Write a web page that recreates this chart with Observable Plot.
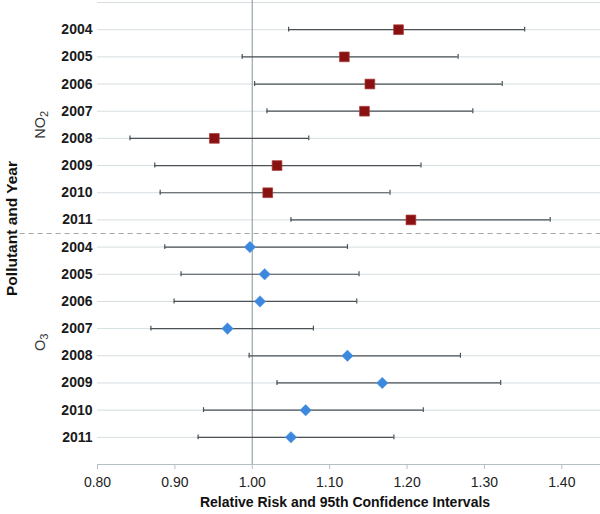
<!DOCTYPE html>
<html><head><meta charset="utf-8">
<script src="https://cdn.jsdelivr.net/npm/d3@7"></script>
<script src="https://cdn.jsdelivr.net/npm/@observablehq/plot@0.6"></script>
<style>
body{margin:0;background:#fff;font-family:"Liberation Sans",Arial,sans-serif;}
</style>
</head><body><div id="chart"></div>
<script>
// ---- data ----
const years = ["2004","2005","2006","2007","2008","2009","2010","2011"];
const pollutants = ["NO2","O3"];
const no2RR   = [1.189, 1.119, 1.152, 1.145, 0.951, 1.032, 1.020, 1.205];
const no2Low  = [1.047, 0.987, 1.003, 1.019, 0.842, 0.874, 0.881, 1.050];
const no2High = [1.352, 1.266, 1.323, 1.285, 1.073, 1.218, 1.178, 1.385];
const o3RR    = [0.997, 1.016, 1.010, 0.968, 1.123, 1.168, 1.069, 1.050];
const o3Low   = [0.887, 0.908, 0.899, 0.869, 0.996, 1.032, 0.937, 0.930];
const o3High  = [1.123, 1.138, 1.135, 1.079, 1.269, 1.321, 1.221, 1.183];
const xTicks  = [0.80, 0.90, 1.00, 1.10, 1.20, 1.30, 1.40];
const xTitle = "Relative Risk and 95th Confidence Intervals";
const yTitle = "Pollutant and Year";

// ---- table ----
const series = [
  {name: pollutants[0], rr: no2RR, lo: no2Low, hi: no2High},
  {name: pollutants[1], rr: o3RR, lo: o3Low, hi: o3High}
];
const rows = [];
series.forEach((s, si) => years.forEach((y, k) => rows.push({
  pollutant: s.name, year: y, i: si * years.length + k, rr: s.rr[k], lo: s.lo[k], hi: s.hi[k]
})));
const nRows = rows.length;
const groupLabels = series.map((s, si) => ({name: s.name, mid: si * years.length + (years.length - 1) / 2}));
const sepY = [years.length - 0.5];
const gridRows = d3.range(-1, nRows);
const xMin = 0.8, xMax = 1.45;

const cap = 0.09;
const errStroke = "#4b5154";

const chart = Plot.plot({
  width: 600,
  height: 514,
  marginLeft: 97,
  marginRight: 0,
  marginTop: 2,
  marginBottom: 50,
  style: {fontFamily: '"Liberation Sans", Arial, sans-serif', background: "#fff"},
  x: {domain: [xMin, xMax]},
  y: {domain: [-1, nRows], reverse: true, axis: null},
  marks: [
    Plot.ruleY(gridRows, {x1: xMin, x2: xMax, stroke: "#d6dee1", strokeWidth: 1}),
    Plot.ruleY([nRows], {x1: xMin, x2: xMax, stroke: "#b4bfc3", strokeWidth: 1}),
    Plot.ruleY(sepY, {x1: 0.70, x2: xMax, stroke: "#a7a7a7", strokeDasharray: "5,4", strokeWidth: 1}),
    Plot.ruleX([1], {y1: -1.1, y2: nRows, stroke: "#9aa4a7", strokeWidth: 1.2}),
    Plot.axisX(xTicks, {tickSize: 5, tickPadding: 8, tickFormat: d => d.toFixed(2), fontSize: 14, stroke: "#b4bfc3", fill: "#222", label: null}),
    Plot.axisY(d3.range(nRows), {tickSize: 0, tickPadding: 5, tickFormat: i => rows[i].year, fontSize: 14, fontWeight: "bold", fill: "#1a1a1a", label: null}),
    Plot.ruleY(rows, {y: "i", x1: "lo", x2: "hi", stroke: errStroke, strokeWidth: 1.2}),
    Plot.ruleX(rows, {x: "lo", y1: d => d.i - cap, y2: d => d.i + cap, stroke: errStroke, strokeWidth: 1.2}),
    Plot.ruleX(rows, {x: "hi", y1: d => d.i - cap, y2: d => d.i + cap, stroke: errStroke, strokeWidth: 1.2}),
    Plot.dot(rows.filter(d => d.pollutant === pollutants[0]), {x: "rr", y: "i", symbol: "square", r: 5.5, fill: "#8a1111", stroke: "#a93b3b", strokeWidth: 0.7}),
    Plot.dot(rows.filter(d => d.pollutant === pollutants[1]), {x: "rr", y: "i", symbol: "diamond2", r: 5.2, fill: "#3b88de", stroke: "#5a9be4", strokeWidth: 0.5}),
    Plot.text(groupLabels, {y: "mid", text: "name", frameAnchor: "left", textAnchor: "middle", dx: -57, rotate: -90, fontSize: 14.5, fill: "#333", className: "grp"}),
    Plot.text([yTitle], {y: () => (nRows - 1) / 2, text: d => d, frameAnchor: "left", textAnchor: "middle", dx: -85, dy: -5, rotate: -90, fontSize: 15.5, fontWeight: "bold", fill: "#111"}),
    Plot.text([xTitle], {text: d => d, frameAnchor: "bottom", dx: -4, dy: 42.5, fontSize: 14, fontWeight: "bold", fill: "#111"})
  ]
});
// render the trailing digit of the pollutant names as a real subscript
d3.select(chart).selectAll("g.grp text").each(function() {
  const t = this.textContent;
  const m = t.match(/^(\D+)(\d+)$/);
  if (!m) return;
  const el = d3.select(this);
  el.text(null);
  el.append("tspan").text(m[1]);
  el.append("tspan").attr("font-size", "11px").attr("dy", "0.3em").text(m[2]);
});
document.getElementById("chart").appendChild(chart);
</script>
</body></html>
